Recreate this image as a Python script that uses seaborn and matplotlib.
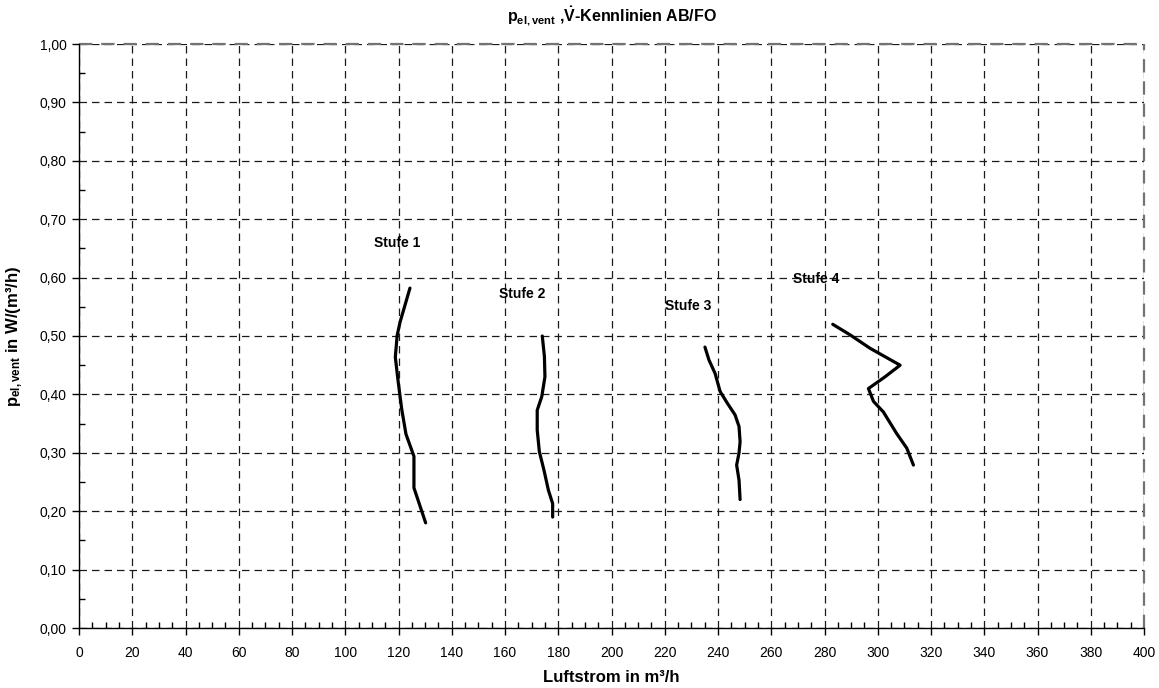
import matplotlib
matplotlib.use("Agg")
import matplotlib.pyplot as plt
import seaborn as sns
import pandas as pd
from matplotlib.ticker import MultipleLocator, FuncFormatter

# ---- data ----
stufe1_x = [124.3, 120.6, 119.5, 118.8, 119.9, 121.2, 122.8, 125.8, 125.8, 130.2]
stufe1_y = [0.582, 0.524, 0.501, 0.464, 0.421, 0.375, 0.332, 0.294, 0.240, 0.180]

stufe2_x = [174.0, 174.8, 175.0, 173.8, 172.1, 172.1, 172.9, 174.6, 176.3, 177.9, 177.9]
stufe2_y = [0.500, 0.465, 0.430, 0.396, 0.373, 0.339, 0.302, 0.271, 0.236, 0.213, 0.190]

stufe3_x = [235.1, 236.6, 238.9, 240.8, 243.5, 246.4, 247.9, 248.3, 247.9, 247.0, 247.9, 248.3]
stufe3_y = [0.481, 0.459, 0.436, 0.405, 0.385, 0.365, 0.345, 0.319, 0.300, 0.279, 0.253, 0.220]

stufe4_x = [283.1, 289.6, 297.1, 308.4, 302.7, 296.5, 298.4, 302.1, 307.1, 310.9, 313.4]
stufe4_y = [0.520, 0.502, 0.479, 0.450, 0.430, 0.410, 0.388, 0.370, 0.333, 0.308, 0.279]

series_names = ["Stufe 1", "Stufe 2", "Stufe 3", "Stufe 4"]
label_x = [119.4, 166.4, 228.7, 276.8]
label_y = [0.660, 0.572, 0.551, 0.598]

title_text = r"$\mathbf{p_{el,vent}}$ ,$\mathbf{\dot{V}}$-Kennlinien AB/FO"
xlabel_text = "Luftstrom in m³/h"
ylabel_text = r"$\mathbf{p_{el,vent}}$ in W/(m³/h)"

# ---- style ----
sns.set_theme(style="white")
plt.rcParams["font.family"] = ["Liberation Sans", "DejaVu Sans"]
plt.rcParams["mathtext.fontset"] = "custom"
plt.rcParams["mathtext.rm"] = "Liberation Sans"
plt.rcParams["mathtext.bf"] = "Liberation Sans:bold"
plt.rcParams["mathtext.it"] = "Liberation Sans:italic"
plt.rcParams["text.color"] = "black"
plt.rcParams["axes.labelcolor"] = "black"

fig = plt.figure(figsize=(11.59, 6.88), dpi=100)
ax = fig.add_axes([79 / 1159, 1 - 628 / 688, (1144 - 79) / 1159, (628 - 44) / 688])

frames = []
for name, xs, ys in zip(series_names,
                        [stufe1_x, stufe2_x, stufe3_x, stufe4_x],
                        [stufe1_y, stufe2_y, stufe3_y, stufe4_y]):
    frames.append(pd.DataFrame({"x": xs, "y": ys, "stufe": name}))
df = pd.concat(frames, ignore_index=True)

sns.lineplot(data=df, x="x", y="y", hue="stufe", units="stufe", estimator=None,
             sort=False, palette=["black"] * 4, linewidth=2.3, legend=False, ax=ax,
             zorder=5)

for name, lx, ly in zip(series_names, label_x, label_y):
    ax.text(lx, ly, name, ha="center", va="center", fontsize=10, fontweight="bold",
            color="black", zorder=6)

ax.set_xlim(0, 400)
ax.set_ylim(0, 1.0)
ax.xaxis.set_major_locator(MultipleLocator(20))
ax.xaxis.set_minor_locator(MultipleLocator(5))
ax.yaxis.set_major_locator(MultipleLocator(0.1))
ax.yaxis.set_minor_locator(MultipleLocator(0.05))
ax.yaxis.set_major_formatter(FuncFormatter(lambda v, p: f"{v:.2f}".replace(".", ",")))
ax.xaxis.set_major_formatter(FuncFormatter(lambda v, p: f"{v:.0f}"))

ax.tick_params(which="major", direction="out", length=5, width=1, colors="black",
               labelsize=10, left=True, bottom=True)
ax.tick_params(axis="x", which="major", pad=8)
ax.tick_params(axis="y", which="major", pad=4)
ax.tick_params(which="minor", direction="in", length=4, width=1, colors="black",
               left=True, bottom=True)

ax.grid(True, which="major", color="0.1", linestyle=(0, (6, 4)), linewidth=0.9)
for s in ["top", "right"]:
    ax.spines[s].set_visible(False)
for s in ["left", "bottom"]:
    ax.spines[s].set_color("black")
    ax.spines[s].set_linewidth(1.0)
ax.axhline(1.0, color="0.45", linestyle=(0, (6, 4)), linewidth=1.6, clip_on=False, zorder=1)
ax.axvline(400, color="0.45", linestyle=(0, (6, 4)), linewidth=1.6, clip_on=False, zorder=1)

ax.set_xlabel(xlabel_text, fontsize=12, fontweight="bold")
ax.set_ylabel(ylabel_text, fontsize=12, fontweight="bold")
ax.xaxis.label.set_va("center")
ax.xaxis.set_label_coords(0.5, (628 - 678) / 584)
ax.yaxis.label.set_va("center")
ax.yaxis.set_label_coords((15 - 79) / 1065, 0.5)

fig.text((79 + 1144) / 2 / 1159, 1 - 16 / 688, title_text, ha="center", va="center",
         fontsize=11.5, fontweight="bold", color="black")

fig.savefig("out.png", dpi=100, facecolor="white")
